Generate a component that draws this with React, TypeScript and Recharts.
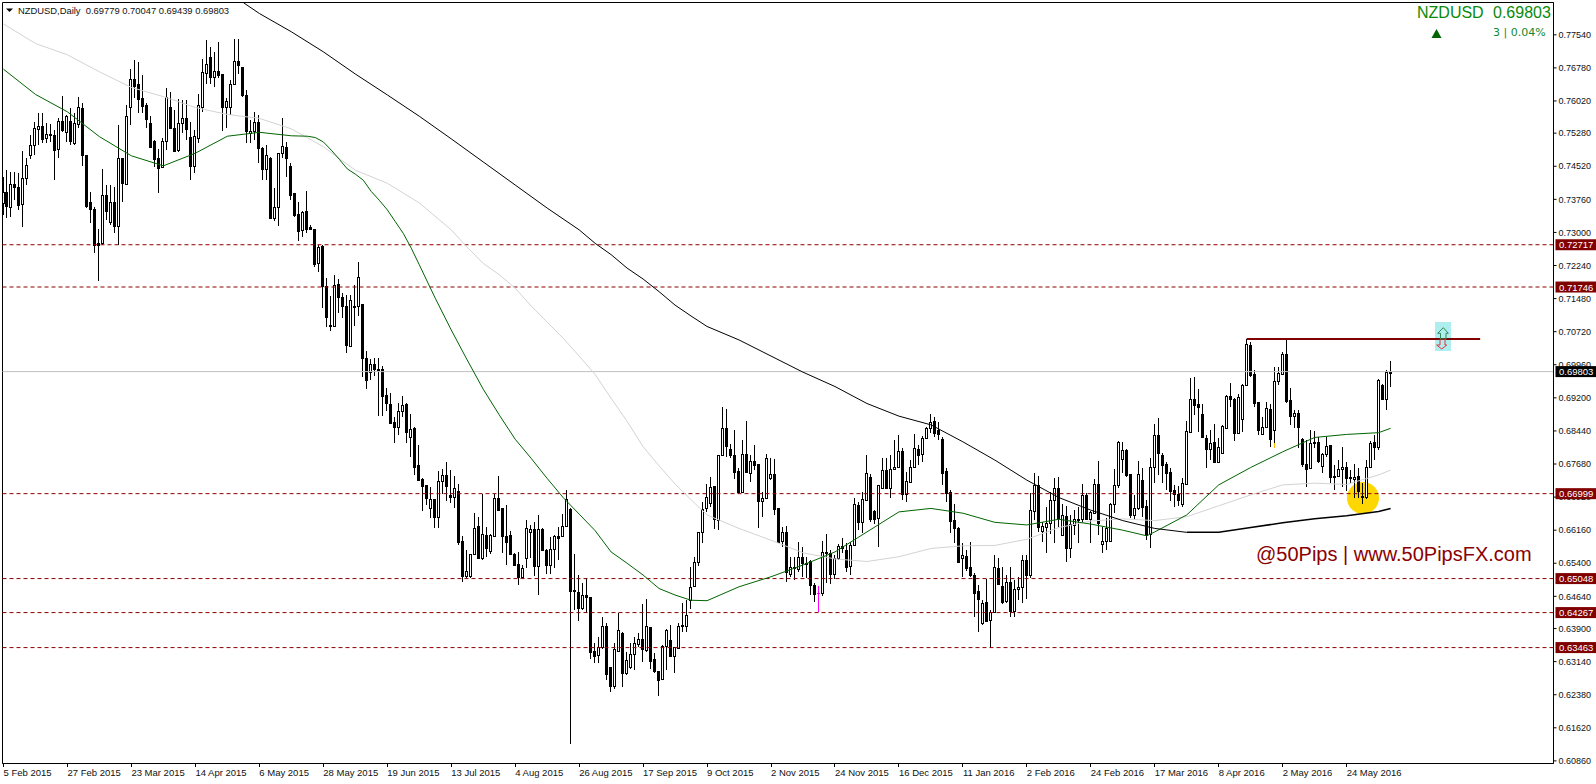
import React from "react";
import { ComposedChart, Bar, Line, XAxis, YAxis, ReferenceLine, ReferenceArea } from "recharts";

// prices are in 1/10000, one entry per daily bar
const opens = [
  7367,7394,7358,7411,7405,7365,7424,7478,7501,7538,7544,7518,7523,7524,7491,7556,
  7530,7556,7506,7548,7585,7478,7371,7354,7276,7276,7387,7325,7371,7315,7470,7411,
  7587,7652,7642,7608,7593,7552,7510,7471,7451,7511,7587,7541,7489,7551,7564,7520,
  7453,7518,7587,7667,7704,7658,7670,7664,7589,7589,7642,7693,7681,7615,7528,7534,
  7554,7493,7446,7472,7332,7359,7482,7497,7453,7390,7342,7305,7349,7313,7307,7230,
  7268,7177,7087,7086,7181,7151,7131,7040,7131,7131,7136,7011,6980,6997,6987,6986,
  6927,6906,6865,6853,6889,6905,6829,6851,6765,6734,6719,6666,6687,6647,6728,6742,
  6696,6692,6707,6591,6511,6511,6562,6625,6553,6605,6568,6603,6691,6667,6602,6606,
  6562,6538,6509,6551,6612,6618,6533,6618,6570,6536,6572,6602,6602,6625,6665,6478,
  6473,6438,6467,6462,6338,6329,6347,6397,6301,6259,6339,6379,6288,6302,6331,6354,
  6365,6341,6393,6319,6292,6273,6350,6364,6328,6346,6398,6396,6455,6488,6544,6611,
  6666,6679,6717,6639,6788,6850,6802,6789,6752,6704,6792,6747,6775,6767,6684,6691,
  6735,6744,6667,6590,6611,6515,6532,6527,6555,6541,6546,6491,6472,6471,6567,6563,
  6515,6553,6580,6570,6534,6582,6674,6634,6685,6739,6661,6643,6714,6754,6714,6756,
  6762,6798,6699,6727,6760,6802,6790,6827,6850,6866,6846,6825,6752,6703,6639,6622,
  6553,6557,6531,6514,6476,6402,6450,6410,6429,6528,6488,6454,6498,6431,6480,6485,
  6547,6514,6661,6720,6615,6624,6633,6685,6714,6604,6648,6576,6627,6642,6641,6697,
  6642,6656,6721,6585,6590,6590,6675,6720,6779,6800,6744,6651,6666,6731,6672,6607,
  6760,6835,6789,6768,6749,6708,6699,6675,6722,6842,6917,6906,6882,6827,6802,6818,
  6772,6794,6850,6924,6917,6839,6871,6949,7041,6974,6910,6837,6852,6895,6846,6958,
  6975,7021,6915,6879,6885,6825,6768,6759,6818,6818,6763,6790,6811,6741,6741,6757,
  6762,6738,6734,6741,6695,6693,6762,6818,6808,6950,6917,6978,
];
const highs = [
  7428,7443,7439,7439,7436,7488,7470,7524,7554,7574,7574,7551,7549,7535,7562,7613,
  7570,7585,7574,7610,7597,7478,7394,7359,7307,7445,7409,7409,7404,7547,7470,7593,
  7675,7696,7692,7662,7597,7567,7512,7492,7516,7631,7623,7581,7606,7604,7604,7554,
  7535,7617,7698,7741,7725,7715,7738,7664,7608,7650,7744,7744,7681,7627,7558,7577,
  7570,7497,7501,7474,7401,7482,7564,7508,7459,7391,7371,7350,7396,7318,7307,7272,
  7272,7195,7153,7203,7193,7160,7157,7157,7180,7232,7136,7028,7009,7011,7011,6993,
  6942,6931,6877,6908,6925,6909,6882,6854,6812,6737,6719,6715,6687,6751,6757,6772,
  6754,6741,6723,6603,6570,6562,6656,6647,6699,6624,6608,6700,6740,6668,6674,6614,
  6564,6566,6536,6639,6628,6635,6651,6620,6572,6601,6605,6624,6654,6708,6668,6561,
  6514,6494,6505,6462,6356,6371,6416,6402,6302,6356,6425,6381,6337,6356,6371,6379,
  6446,6458,6394,6333,6292,6352,6390,6398,6348,6403,6448,6455,6532,6555,6611,6681,
  6722,6739,6717,6788,6898,6894,6815,6846,6758,6823,6866,6789,6812,6767,6704,6792,
  6781,6779,6667,6624,6626,6555,6555,6588,6578,6555,6547,6494,6488,6592,6607,6570,
  6559,6584,6597,6586,6589,6690,6681,6704,6788,6744,6662,6720,6781,6781,6789,6823,
  6835,6804,6750,6777,6837,6812,6832,6854,6884,6877,6865,6831,6758,6708,6676,6624,
  6586,6570,6589,6517,6490,6455,6504,6432,6559,6551,6532,6513,6532,6501,6509,6559,
  6559,6701,6748,6740,6635,6670,6704,6735,6739,6675,6671,6651,6662,6670,6723,6701,
  6660,6733,6775,6624,6643,6678,6756,6821,6819,6802,6744,6697,6776,6758,6685,6781,
  6860,6873,6793,6773,6758,6720,6718,6735,6867,6965,6967,6940,6905,6835,6846,6860,
  6827,6858,6927,6954,6919,6929,6951,7055,7049,6984,6911,6877,6911,6906,6992,6992,
  7025,7055,6942,6892,6891,6827,6823,6846,6844,6831,6793,6831,6812,6766,6777,6808,
  6773,6754,6768,6758,6724,6777,6822,6835,6963,6951,6984,7005,
];
const lows = [
  7340,7332,7336,7374,7351,7313,7409,7468,7478,7501,7505,7505,7508,7420,7470,7531,
  7508,7501,7501,7539,7453,7355,7321,7252,7189,7271,7328,7317,7298,7271,7371,7409,
  7547,7608,7574,7574,7539,7495,7451,7391,7447,7489,7539,7485,7485,7528,7512,7420,
  7437,7505,7577,7642,7642,7633,7654,7534,7541,7570,7639,7665,7612,7505,7505,7512,
  7459,7420,7420,7332,7327,7315,7472,7428,7374,7336,7281,7290,7298,7305,7221,7210,
  7126,7082,7074,7084,7114,7103,7024,7040,7084,7107,6967,6941,6960,6971,6879,6879,
  6889,6860,6816,6835,6877,6817,6783,6743,6730,6661,6674,6643,6620,6622,6699,6684,
  6678,6666,6582,6497,6507,6505,6559,6551,6547,6555,6562,6602,6661,6564,6536,6559,
  6536,6490,6507,6528,6551,6510,6467,6568,6515,6515,6528,6547,6601,6624,6124,6432,
  6408,6432,6425,6320,6311,6311,6344,6272,6245,6252,6337,6256,6283,6298,6295,6348,
  6314,6337,6296,6287,6236,6272,6295,6325,6288,6344,6383,6383,6434,6486,6534,6586,
  6658,6670,6618,6616,6788,6785,6781,6733,6698,6701,6748,6727,6754,6622,6647,6689,
  6731,6651,6586,6578,6498,6509,6501,6521,6509,6505,6467,6452,6427,6465,6494,6492,
  6503,6547,6563,6521,6513,6580,6616,6609,6685,6634,6630,6578,6712,6712,6691,6754,
  6758,6685,6681,6725,6758,6766,6773,6825,6840,6829,6823,6720,6681,6609,6586,6540,
  6509,6523,6509,6417,6381,6398,6406,6345,6427,6490,6446,6448,6417,6417,6455,6448,
  6459,6505,6639,6612,6589,6563,6607,6586,6624,6603,6544,6553,6605,6587,6633,6639,
  6586,6655,6605,6564,6570,6590,6655,6712,6747,6739,6643,6639,6662,6647,6593,6574,
  6724,6743,6724,6708,6682,6670,6672,6670,6720,6840,6881,6842,6827,6758,6777,6770,
  6770,6793,6849,6900,6822,6836,6842,6947,6969,6900,6835,6835,6851,6808,6804,6950,
  6973,6909,6858,6850,6804,6762,6716,6756,6804,6771,6747,6785,6725,6708,6739,6716,
  6705,6724,6689,6689,6675,6688,6760,6777,6800,6917,6892,6944,
];
const closes = [
  7394,7361,7411,7404,7364,7424,7455,7501,7539,7544,7515,7525,7525,7489,7556,7535,
  7567,7511,7551,7587,7479,7361,7353,7271,7271,7387,7350,7371,7315,7470,7413,7567,
  7652,7636,7607,7590,7561,7497,7468,7449,7509,7610,7541,7488,7551,7564,7538,7453,
  7521,7592,7669,7688,7658,7671,7662,7589,7601,7642,7693,7685,7615,7534,7534,7554,
  7493,7446,7479,7332,7359,7482,7498,7472,7387,7340,7304,7348,7309,7308,7227,7267,
  7177,7105,7084,7180,7151,7130,7042,7144,7130,7197,7011,6960,6997,6986,6986,6925,
  6909,6862,6852,6889,6903,6841,6849,6762,6731,6718,6691,6687,6647,6728,6742,6718,
  6693,6712,6589,6510,6522,6562,6622,6553,6607,6576,6605,6691,6662,6602,6589,6561,
  6536,6509,6530,6622,6618,6533,6618,6570,6536,6572,6602,6599,6625,6687,6477,6477,
  6438,6467,6463,6337,6328,6348,6397,6286,6259,6342,6387,6288,6318,6331,6356,6365,
  6344,6397,6316,6292,6272,6351,6387,6327,6347,6397,6397,6422,6486,6544,6611,6665,
  6693,6716,6642,6788,6850,6810,6789,6750,6704,6792,6750,6775,6766,6684,6691,6781,
  6744,6664,6588,6611,6521,6532,6528,6555,6540,6540,6490,6469,6472,6566,6564,6515,
  6553,6580,6574,6531,6583,6675,6635,6687,6747,6642,6642,6719,6754,6714,6756,6762,
  6798,6699,6728,6760,6805,6789,6827,6850,6865,6840,6837,6748,6701,6638,6622,6543,
  6559,6530,6513,6472,6459,6449,6408,6429,6531,6492,6452,6498,6430,6480,6485,6547,
  6513,6662,6720,6624,6625,6632,6685,6714,6643,6650,6576,6630,6641,6641,6697,6641,
  6658,6721,6633,6590,6620,6676,6719,6819,6800,6743,6651,6666,6745,6669,6605,6760,
  6835,6794,6766,6748,6707,6698,6685,6724,6843,6917,6904,6898,6831,6802,6817,6773,
  6806,6855,6924,6917,6839,6921,6949,7044,6973,6909,6846,6852,6897,6825,6958,6977,
  7021,6913,6879,6885,6852,6768,6757,6817,6817,6775,6791,6810,6739,6739,6756,6762,
  6737,6737,6739,6705,6692,6762,6817,6808,6961,6918,6980,6980,
];

// moving averages (bar index -> value)
const greenBars = [0,8,16,24,32,40,48,56,64,72,76,78,80,82,84,86,88,90,92,94,96,98,100,102,104,108,112,116,120,124,128,132,136,140,144,148,152,156,160,164,168,172,176,184,192,200,208,216,224,232,240,248,256,264,272,280,286,288,296,304,312,320,328,336,344,347];
const greenMa = [7675,7617,7577,7520,7476,7453,7482,7521,7530,7522,7521,7518,7508,7489,7468,7446,7434,7420,7394,7374,7352,7325,7298,7264,7226,7149,7076,7007,6940,6881,6825,6781,6735,6691,6653,6615,6566,6540,6513,6482,6467,6455,6454,6486,6509,6536,6566,6612,6658,6666,6655,6634,6628,6641,6630,6616,6603,6612,6651,6720,6760,6796,6829,6836,6840,6850];
const grayBars = [0,8,16,24,32,40,48,56,64,72,80,88,96,104,112,116,120,124,128,132,136,140,144,148,152,156,160,164,168,172,176,184,192,200,208,216,224,232,240,248,256,264,272,280,288,296,304,312,320,328,336,344,347];
const grayMa = [7779,7734,7708,7669,7633,7612,7587,7571,7562,7538,7497,7443,7413,7368,7306,7266,7229,7203,7172,7131,7094,7057,7016,6974,6919,6866,6808,6764,6722,6686,6651,6620,6593,6564,6550,6544,6555,6574,6580,6581,6595,6622,6637,6642,6638,6647,6672,6697,6720,6724,6721,6743,6754];
const blackBars = [60,64,72,80,88,96,104,112,120,128,136,144,148,152,156,160,164,168,172,176,184,192,200,208,216,224,232,240,248,256,264,272,280,288,296];
const blackMa = [7828,7803,7761,7715,7664,7616,7567,7515,7462,7409,7356,7306,7275,7249,7218,7193,7164,7133,7108,7084,7053,7016,6979,6946,6907,6878,6858,6819,6777,6731,6691,6662,6638,6620,6611];
const blackBoldBars = [296,304,312,320,328,336,344,347];
const blackBoldMa = [6611,6611,6622,6633,6642,6649,6659,6666];

const dateTicks = [0,16,32,48,64,80,96,112,128,144,160,176,192,208,224,240,256,272,288,304,320,336];
const dateLabels = ["5 Feb 2015","27 Feb 2015","23 Mar 2015","14 Apr 2015","6 May 2015","28 May 2015","19 Jun 2015","13 Jul 2015","4 Aug 2015","26 Aug 2015","17 Sep 2015","9 Oct 2015","2 Nov 2015","24 Nov 2015","16 Dec 2015","11 Jan 2016","2 Feb 2016","24 Feb 2016","17 Mar 2016","8 Apr 2016","2 May 2016","24 May 2016"];
const priceTicks = [0.7754,0.7678,0.7602,0.7528,0.7452,0.7376,0.73,0.7224,0.7148,0.7072,0.6996,0.692,0.6844,0.6768,0.6692,0.6616,0.654,0.6464,0.639,0.6314,0.6238,0.6162,0.6086];
const levels = [0.72717,0.71746,0.66999,0.65048,0.64267,0.63463];
const lastPrice = 0.69803;
const resistance = 0.7055;

const FONT = "'Liberation Sans', Arial, sans-serif";
const X_DOMAIN = [-0.25, 387.75];
const Y_DOMAIN = [0.608, 0.78282];
const AXIS_Y = 763.5;

const table = opens.map((open, i) => ({
  k: i,
  range: [lows[i] / 10000, highs[i] / 10000],
  open: open / 10000,
  close: closes[i] / 10000,
  high: highs[i] / 10000,
  low: lows[i] / 10000,
})) as any[];
const addMa = (key: string, bars: number[], vals: number[]) => {
  bars.forEach((b, i) => { table[b][key] = vals[i] / 10000; });
};
addMa("green", greenBars, greenMa);
addMa("gray", grayBars, grayMa);
addMa("black", blackBars, blackMa);
addMa("blackBold", blackBoldBars, blackBoldMa);

function Candle(props: any) {
  const { x, y, width, height, payload, index } = props;
  const { open, close, high, low } = payload;
  const h = Math.abs(height);
  const top = Math.min(y, y + height);
  const span = high - low || 1;
  const toY = (v: number) => top + ((high - v) / span) * h;
  const wx = Math.round(x + width / 2 - 0.5);
  const color = index === 204 ? "#ff00ff" : "#000";
  const bodyTop = Math.round(toY(Math.max(open, close)));
  const bodyBot = Math.max(Math.round(toY(Math.min(open, close))), bodyTop + 1);
  const up = close >= open;
  return (
    <g shapeRendering="crispEdges">
      <rect x={wx} y={top} width={1} height={h} fill={color} />
      {index === 318 && <rect x={wx} y={toY(0.6816)} width={1} height={toY(low) - toY(0.6816)} fill="#ffb400" />}
      {index === 204 ? (
        <rect x={wx - 1} y={bodyTop} width={3} height={1} fill={color} />
      ) : up ? (
        <rect x={wx - 0.5} y={bodyTop + 0.5} width={2} height={bodyBot - bodyTop} fill="#fff" stroke="#000" />
      ) : (
        <rect x={wx - 1} y={bodyTop} width={3} height={bodyBot - bodyTop + 1} fill="#000" />
      )}
    </g>
  );
}

function DateTick({ x, payload }: any) {
  return (
    <g>
      <line x1={x} x2={x} y1={AXIS_Y} y2={AXIS_Y + 3} stroke="#000" shapeRendering="crispEdges" />
      <text x={x} y={AXIS_Y + 12.5} fontSize={9.5} fontFamily={FONT} fill="#111">{dateLabels[dateTicks.indexOf(payload.value)]}</text>
    </g>
  );
}

function PriceTag({ viewBox, value, fill }: any) {
  const right = viewBox.x + viewBox.width;
  return (
    <g>
      <rect x={right + 2} y={viewBox.y - 5.5} width={41} height={11} fill={fill} />
      <text x={right + 5.5} y={viewBox.y + 3.5} fontSize={9.5} fontFamily={FONT} fill="#fff">{value.toFixed(5)}</text>
    </g>
  );
}

export default function App() {
  return (
    <div style={{ position: "fixed", left: 0, top: 0, width: 1596, height: 784, background: "#fff", overflow: "hidden", fontFamily: FONT }}>
      <div style={{ position: "absolute", left: 1435, top: 322, width: 16, height: 29, background: "#aeeeee" }} />
      <div style={{ position: "absolute", left: 1347, top: 482, width: 32, height: 32, borderRadius: "50%", background: "#ffd700" }} />
      <ComposedChart width={1596} height={784} data={table} margin={{ top: 2.5, right: 0.5, bottom: 0.5, left: 2.5 }} style={{ position: "absolute", left: 0, top: 0 }}>
        <XAxis dataKey="k" type="number" domain={X_DOMAIN} allowDataOverflow ticks={dateTicks} height={20} axisLine={{ stroke: "#000" }} tickLine={false} tick={<DateTick />} interval={0} />
        <YAxis type="number" orientation="right" domain={Y_DOMAIN} allowDataOverflow ticks={priceTicks} width={42} interval={0} axisLine={{ stroke: "#000" }} tickSize={3} tickLine={{ stroke: "#000" }} tickMargin={2} tick={{ fontSize: 9, fontFamily: FONT, fill: "#111" }} tickFormatter={(v: number) => v.toFixed(5)} />
        <ReferenceArea x1={X_DOMAIN[0]} x2={X_DOMAIN[1]} y1={Y_DOMAIN[0]} y2={Y_DOMAIN[1]} fill="none" stroke="#000" ifOverflow="visible" />
        {levels.map((lv) => (
          <ReferenceLine key={lv} y={lv} stroke="#8b0000" strokeDasharray="4 3" />
        ))}
        <ReferenceLine y={lastPrice} stroke="#c0c0c0" />
        <ReferenceLine segment={[{ x: 311, y: resistance }, { x: 369.4, y: resistance }]} stroke="#800000" strokeWidth={2} />
        <Line dataKey="gray" stroke="#d3d3d3" strokeWidth={1} dot={false} connectNulls isAnimationActive={false} />
        <Line dataKey="green" stroke="#006400" strokeWidth={1} dot={false} connectNulls isAnimationActive={false} />
        <Line dataKey="black" stroke="#000" strokeWidth={1} dot={false} connectNulls isAnimationActive={false} />
        <Line dataKey="blackBold" stroke="#000" strokeWidth={1.5} dot={false} connectNulls isAnimationActive={false} />
        <Bar dataKey="range" barSize={3} shape={<Candle />} isAnimationActive={false} />
      </ComposedChart>

      {/* price tags sit on top of the axis labels, same scales as the chart below */}
      <ComposedChart width={1596} height={784} data={table} margin={{ top: 2.5, right: 42.5, bottom: 20.5, left: 2.5 }} style={{ position: "absolute", left: 0, top: 0 }}>
        <XAxis dataKey="k" type="number" domain={X_DOMAIN} allowDataOverflow hide />
        <YAxis type="number" domain={Y_DOMAIN} allowDataOverflow hide />
        {levels.map((lv) => (
          <ReferenceLine key={lv} y={lv} stroke="none" label={<PriceTag value={lv} fill="#800000" />} />
        ))}
        <ReferenceLine y={lastPrice} stroke="none" label={<PriceTag value={lastPrice} fill="#000" />} />
      </ComposedChart>

      <svg width={1596} height={784} style={{ position: "absolute", left: 0, top: 0, pointerEvents: "none" }}>
        <polygon points="6,8.5 13,8.5 9.5,12" fill="#000" />
        <polygon points="1431.5,38 1441.5,38 1436.5,29" fill="#006400" />
        <path d="M1443.3 327.7 L1448.3 333.3 L1446 333.3 L1446 339 L1440.5 339 L1440.5 333.3 L1437.7 333.3 Z" fill="none" stroke="#2e8b57" />
        <path d="M1440 339 L1440 345 L1436.7 345 L1441.7 349 L1446.7 345 L1445 345 L1445 339" fill="none" stroke="#e8303a" />
      </svg>
      <div style={{ position: "absolute", left: 18, top: 5, fontSize: 9.4, color: "#111", whiteSpace: "pre", lineHeight: "11px" }}>NZDUSD,Daily  0.69779 0.70047 0.69439 0.69803</div>
      <div style={{ position: "absolute", left: 1417, top: 4, fontSize: 16, color: "#0a8a0a", whiteSpace: "pre", lineHeight: "18px" }}>NZDUSD</div>
      <div style={{ position: "absolute", left: 1493, top: 4, fontSize: 16, color: "#0a8a0a", whiteSpace: "pre", lineHeight: "18px" }}>0.69803</div>
      <div style={{ position: "absolute", left: 1493, top: 26, fontSize: 11, fontFamily: "'DejaVu Sans'", color: "#108a30", whiteSpace: "pre", lineHeight: "14px" }}>3 | 0.04%</div>
      <div style={{ position: "absolute", left: 1256, top: 543, fontSize: 20, color: "#8b0000", whiteSpace: "pre", lineHeight: "23px" }}>@50Pips | www.50PipsFX.com</div>
    </div>
  );
}
